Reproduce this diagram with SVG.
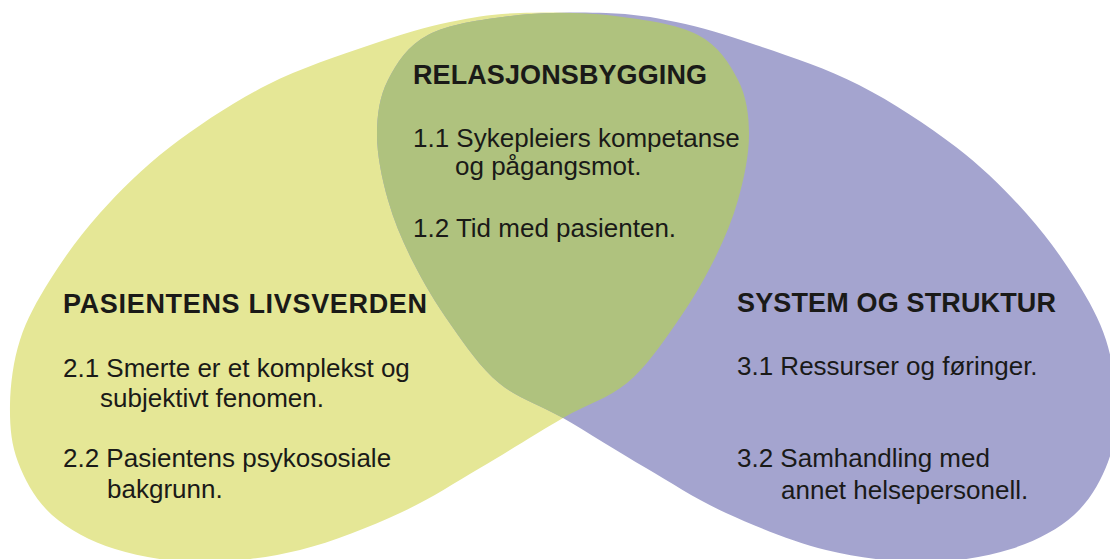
<svg xmlns="http://www.w3.org/2000/svg" xmlns:xlink="http://www.w3.org/1999/xlink" width="1110" height="559" viewBox="0 0 1110 559">
  <style>
    .h { font-family: "Liberation Sans", Arial, sans-serif; font-weight: bold; font-size: 27px; fill: #1a1a18; }
    .t { font-family: "Liberation Sans", Arial, sans-serif; font-size: 26px; fill: #1a1a18; }
  </style>
  <defs>
    <path id="leaf" d="M520,13 C547.5,12 585.3,12.3 615,16 C644.7,19.7 677.5,24.3 698,35 C718.5,45.7 729.5,63.3 738,80 C746.5,96.7 749,115 749,135 C749,155 744,178.8 738,200 C732,221.2 723.5,241.2 713,262 C702.5,282.8 689.3,304.8 675,325 C660.7,345.2 645.7,367.5 627,383 C608.3,398.5 587.5,403.8 563,418 C538.5,432.2 507.2,452.2 480,468 C452.8,483.8 430,499.3 400,513 C370,526.7 333.3,541.8 300,550 C266.7,558.2 230.8,562.2 200,562 C169.2,561.8 139.7,556.8 115,549 C90.3,541.2 68.2,529.5 52,515 C35.8,500.5 25,480.3 18,462 C11,443.7 9.7,425.3 10,405 C10.3,384.7 13.3,360.8 20,340 C26.7,319.2 36.7,301.2 50,280 C63.3,258.8 80,235.2 100,213 C120,190.8 142.2,168.3 170,147 C197.8,125.7 233.7,102 267,85 C300.3,68 339.5,55.5 370,45 C400.5,34.5 425,27.3 450,22 C475,16.7 492.5,14 520,13 Z"/>
    <clipPath id="clipPurple">
      <use href="#leaf" xlink:href="#leaf" transform="translate(1126,0) scale(-1,1)"/>
    </clipPath>
  </defs>
  <rect width="1110" height="559" fill="#ffffff"/>
  <g id="pasientens-livsverden">
    <use href="#leaf" xlink:href="#leaf" fill="#e5e796"/>
  </g>
  <g id="system-og-struktur">
    <use href="#leaf" xlink:href="#leaf" transform="translate(1126,0) scale(-1,1)" fill="#a4a4cf"/>
  </g>
  <g id="relasjonsbygging">
    <use href="#leaf" xlink:href="#leaf" fill="#afc27e" clip-path="url(#clipPurple)"/>
    <text class="h" x="413" y="84" textLength="294" lengthAdjust="spacing">RELASJONSBYGGING</text>
    <text class="t" x="413" y="147">1.1 Sykepleiers kompetanse</text>
    <text class="t" x="455" y="175">og pågangsmot.</text>
    <text class="t" x="413" y="237">1.2 Tid med pasienten.</text>
  </g>
  <g id="pasientens-livsverden-labels">
    <text class="h" x="63" y="313" textLength="364" lengthAdjust="spacing">PASIENTENS LIVSVERDEN</text>
    <text class="t" x="63" y="377">2.1 Smerte er et komplekst og</text>
    <text class="t" x="100" y="407">subjektivt fenomen.</text>
    <text class="t" x="63" y="467">2.2 Pasientens psykososiale</text>
    <text class="t" x="107" y="498">bakgrunn.</text>
  </g>
  <g id="system-og-struktur-labels">
    <text class="h" x="737" y="312" textLength="319" lengthAdjust="spacing">SYSTEM OG STRUKTUR</text>
    <text class="t" x="737" y="375">3.1 Ressurser og føringer.</text>
    <text class="t" x="737" y="467">3.2 Samhandling med</text>
    <text class="t" x="781" y="499">annet helsepersonell.</text>
  </g>
  <g id="connectors"/>
</svg>
